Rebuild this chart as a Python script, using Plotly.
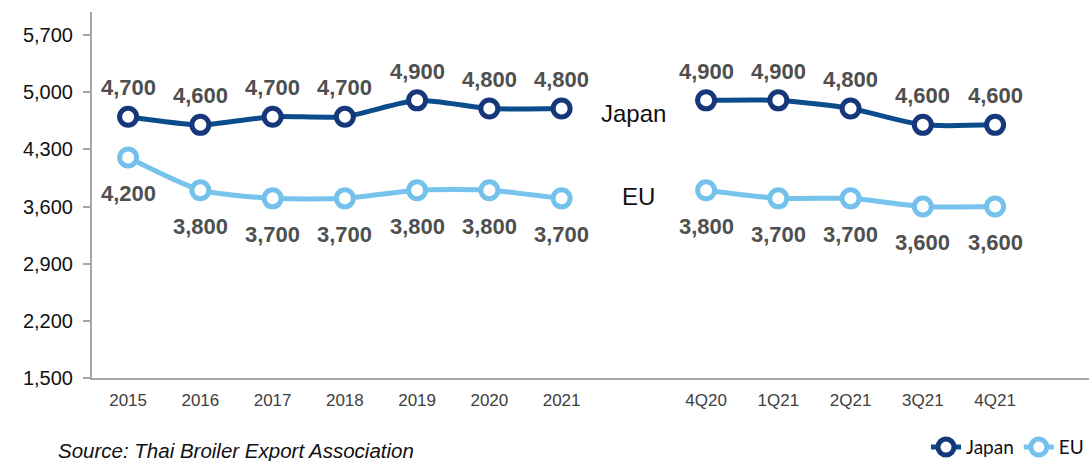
import plotly.graph_objects as go

# Category slots: annual figures, an empty slot, then quarterly figures
categories = ["2015", "2016", "2017", "2018", "2019", "2020", "2021", "",
              "4Q20", "1Q21", "2Q21", "3Q21", "4Q21"]
japan = [4700, 4600, 4700, 4700, 4900, 4800, 4800, None,
         4900, 4900, 4800, 4600, 4600]
eu = [4200, 3800, 3700, 3700, 3800, 3800, 3700, None,
      3800, 3700, 3700, 3600, 3600]
y_ticks = [1500, 2200, 2900, 3600, 4300, 5000, 5700]

x_idx = list(range(len(categories)))
tick_idx = [i for i, c in enumerate(categories) if c]
tick_txt = [c for c in categories if c]

JP_LINE = "#0B4C8C"
JP_MARK = "#16387A"
EU_LINE = "#76C3EC"
EU_MARK = "#74C2EC"
LABEL_GREY = "#4F4F4F"
FONT = "Liberation Sans, Arial"

fig = go.Figure()

fig.add_trace(go.Scatter(
    x=x_idx, y=japan, name="Japan", mode="lines+markers",
    connectgaps=False,
    line=dict(color=JP_LINE, width=5, shape="spline", smoothing=0.6),
    marker=dict(symbol="circle", size=17, color="white",
                line=dict(color=JP_MARK, width=5)),
))
fig.add_trace(go.Scatter(
    x=x_idx, y=eu, name="EU", mode="lines+markers",
    connectgaps=False,
    line=dict(color=EU_LINE, width=5, shape="spline", smoothing=0.6),
    marker=dict(symbol="circle", size=17, color="white",
                line=dict(color=EU_MARK, width=5)),
))

annotations = []
for i, v in enumerate(japan):
    if v is None:
        continue
    annotations.append(dict(
        x=i, y=v, text=f"{v:,}", showarrow=False, yshift=29,
        font=dict(family=FONT, size=22, color=LABEL_GREY, weight="bold"),
    ))
for i, v in enumerate(eu):
    if v is None:
        continue
    annotations.append(dict(
        x=i, y=v, text=f"{v:,}", showarrow=False, yshift=-36,
        font=dict(family=FONT, size=22, color=LABEL_GREY, weight="bold"),
    ))

# Series names placed in the empty slot
annotations.append(dict(x=7, y=4745, text="Japan", showarrow=False,
                        font=dict(family=FONT, size=24, color="#111111")))
annotations.append(dict(x=7.07, y=3728, text="EU", showarrow=False,
                        font=dict(family=FONT, size=24, color="#111111")))

# Source note
annotations.append(dict(
    xref="paper", yref="paper", x=-0.036, y=-0.197,
    xanchor="left", yanchor="middle", showarrow=False,
    text="<i>Source: Thai Broiler Export Association</i>",
    font=dict(family=FONT, size=20.5, color="#111111"),
))

fig.update_layout(
    width=1089, height=461,
    margin=dict(l=92, r=0, t=12, b=83, autoexpand=False),
    paper_bgcolor="white", plot_bgcolor="white",
    showlegend=True,
    legend=dict(orientation="h", xref="container", yref="container",
                x=1.0, xanchor="right",
                y=0.03, yanchor="middle",
                font=dict(family="Lato, DejaVu Sans", size=19,
                          color="#111111"),
                itemwidth=30, tracegroupgap=0),
    annotations=annotations,
)

fig.update_xaxes(
    range=[-0.5, 13.3],
    tickmode="array", tickvals=tick_idx, ticktext=tick_txt,
    showgrid=False, zeroline=False,
    showline=True, linecolor="#A6A6A6", linewidth=2,
    ticks="", ticklen=0, ticklabelstandoff=6,
    tickfont=dict(family=FONT, size=17, color="#404040"),
)
fig.update_yaxes(
    range=[1500, 5982],
    tickmode="array", tickvals=y_ticks,
    ticktext=[f"{t:,}" for t in y_ticks],
    showgrid=False, zeroline=False,
    showline=True, linecolor="#A6A6A6", linewidth=2,
    ticks="outside", ticklen=7, tickcolor="#A6A6A6", tickwidth=1.5,
    ticklabelstandoff=6,
    tickfont=dict(family=FONT, size=20, color="#111111"),
)

fig.write_html("out.html")
